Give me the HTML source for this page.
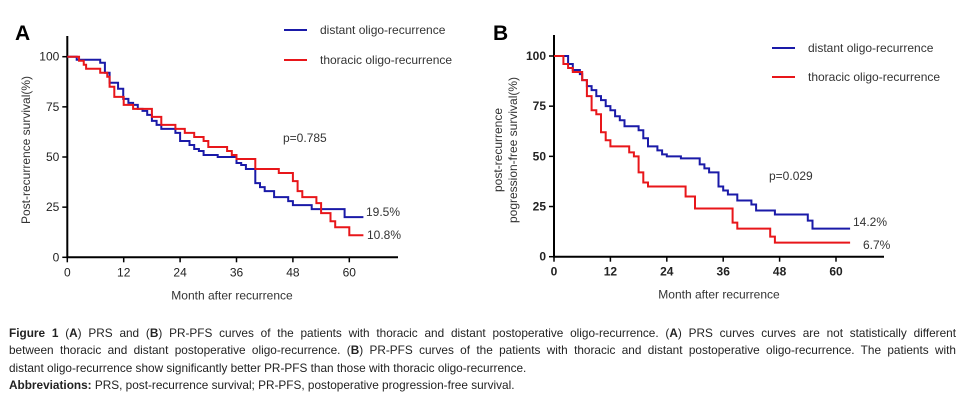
<!DOCTYPE html>
<html><head><meta charset="utf-8"><style>
body{margin:0;background:#fff;width:970px;height:405px;overflow:hidden;font-family:"Liberation Sans",sans-serif}
#cap{position:absolute;left:9px;top:325px;width:947px;font-size:11.8px;line-height:17.4px;color:#222;font-family:"Liberation Sans",sans-serif}
#cap div{white-space:nowrap;text-align:justify;text-align-last:justify}
#cap div.last{text-align-last:left}
</style></head><body>
<svg id="chart" width="970" height="320" style="position:absolute;left:0;top:0" font-family="Liberation Sans, sans-serif"></svg>
<div id="cap">
<div><b>Figure 1</b> (<b>A</b>) PRS and (<b>B</b>) PR-PFS curves of the patients with thoracic and distant postoperative oligo-recurrence. (<b>A</b>) PRS curves curves are not statistically different</div>
<div>between thoracic and distant postoperative oligo-recurrence. (<b>B</b>) PR-PFS curves of the patients with thoracic and distant postoperative oligo-recurrence. The patients with</div>
<div class="last">distant oligo-recurrence show significantly better PR-PFS than those with thoracic oligo-recurrence.</div>
<div class="last"><b>Abbreviations:</b> PRS, post-recurrence survival; PR-PFS, postoperative progression-free survival.</div>
</div>
<script>
const xTicks=[0,12,24,36,48,60];
const yTicks=[0,25,50,75,100];
const aBlueT=[0,2,7,8,9,10.8,11.9,13,14,15,16,17,18,19,20,23,24,26,27,28,29,32,36,37,38,40,41,42,44,47,48,52,59,63];
const aBlueS=[100,98.5,97,92,87,84,79,77,76,74,73,71,68,66,64,62,58,56,54,53,51,50,47,46,44,37,35,33,30,28,26,24,20,20];
const aRedT=[0,2.5,3.5,4,7,8.5,9,10,12,14,18,20,23,25,27,29,30,34,35,36,40,45,48,49,50,53,54,56,57,60,63];
const aRedS=[100,98,96,94,92,90,85,80,76,74,70,66,64,62,60,58,55,53,51,49,44,42,38,33,30,27,22,18,15,11,11];
const bBlueT=[0,3,4,5.5,6,7,8,9,10,11,12,13,14,15,18,19,20,22,23,24,27,31,32,33,35,36,37,39,42,43,47,54,55,63];
const bBlueS=[100,96,93,91,88,85,83,80,78,75,73,70,68,65,63,59,55,53,51,50,49,46,44,42,35,33,31,28,26,23,21,18,14,14];
const bRedT=[0,2,3,4,6,7,8,9,10,11,12,16,17,18,19,20,28,30,38,39,46,47,63];
const bRedS=[100,96,94,92,88,80,73,71,62,58,55,52,50,42,37,35,30,24,17,14,10,7,7];
const svg=document.getElementById('chart');
const NS='http://www.w3.org/2000/svg';
function mk(tag,attrs,parent,text){const e=document.createElementNS(NS,tag);for(const k in attrs)e.setAttribute(k,attrs[k]);if(text!==undefined)e.textContent=text;(parent||svg).appendChild(e);return e;}
function panel(cfg){
  const g=mk('g',{});
  
  
  const X=m=>cfg.x0+m*cfg.px, Y=v=>cfg.y0-v*cfg.py;
  const ax=mk('path',{d:`M${cfg.x0} ${cfg.yTop}V${cfg.y0}H${cfg.xEnd}`,stroke:'#000','stroke-width':2,fill:'none'},g);
  
  
  xTicks.forEach(t=>{
    mk('line',{x1:X(t),x2:X(t),y1:cfg.y0,y2:cfg.y0+5,stroke:'#000','stroke-width':1.5},g);
    const l=mk('text',{x:X(t),y:cfg.y0+19,'text-anchor':'middle','font-size':12,'font-weight':cfg.bold?'bold':'normal',fill:'#222'},g,t);
    
    
  });
  yTicks.forEach(t=>{
    mk('line',{x1:cfg.x0-5,x2:cfg.x0,y1:Y(t),y2:Y(t),stroke:'#000','stroke-width':1.5},g);
    const l=mk('text',{x:cfg.x0-8,y:Y(t)+4,'text-anchor':'end','font-size':12,'font-weight':cfg.bold?'bold':'normal',fill:'#222'},g,t);
    
    
  });
  [[cfg.blue,'#1a1aa8','distant-curve'],[cfg.red,'#e8161a','thoracic-curve']].forEach(([s,c,n])=>{
    let d=`M${X(s[0][0])} ${Y(s[1][0])}`;
    for(let i=1;i<s[0].length;i++){d+=`H${X(s[0][i])}V${Y(s[1][i])}`;}
    const p=mk('path',{d,stroke:c,'stroke-width':2,fill:'none'},g);
    
    
  });
  const lab=mk('text',{x:cfg.lx,y:cfg.ly,'font-size':21,'font-weight':'bold'},g,cfg.label);
  
  
  const xt=mk('text',{x:cfg.xtx,y:cfg.y0+42,'text-anchor':'middle','font-size':12,fill:'#333'},g,'Month after recurrence');
  
  
  cfg.ytitle.forEach((t,i)=>{
    const yt=mk('text',{transform:`translate(${cfg.ytx+i*15},150) rotate(-90)`,'text-anchor':'middle','font-size':12,fill:'#333'},g,t);
    
    
  });
  [['#1a1aa8','distant oligo-recurrence',cfg.legY[0]],['#e8161a','thoracic oligo-recurrence',cfg.legY[1]]].forEach(([c,t,y])=>{
    const lg=mk('g',{},g);
    
    
    mk('line',{x1:cfg.legX,x2:cfg.legX+23,y1:y,y2:y,stroke:c,'stroke-width':2},lg);
    mk('text',{x:cfg.legX+36,y:y+4,'font-size':12,fill:'#333'},lg,t);
  });
  const pv=mk('text',{x:cfg.px_x,y:cfg.px_y,'font-size':12,fill:'#333'},g,cfg.p);
  
  
  cfg.ends.forEach(([t,x,y])=>{
    const e=mk('text',{x,y,'font-size':12,fill:'#333'},g,t);
    
    
  });
}
panel({name:'panel-a',x0:67.3,y0:257.3,px:4.7,py:2.006,yTop:36,xEnd:398,blue:[aBlueT,aBlueS],red:[aRedT,aRedS],
  label:'A',lx:15,ly:40,xtx:232,ytitle:['Post-recurrence survival(%)'],ytx:30,legX:284,legY:[30,60],
  p:'p=0.785',px_x:283,px_y:142,ends:[['19.5%',366,216],['10.8%',367,239]],bold:false});
panel({name:'panel-b',x0:554,y0:256.7,px:4.7,py:2.007,yTop:35,xEnd:884,blue:[bBlueT,bBlueS],red:[bRedT,bRedS],
  label:'B',lx:493,ly:40,xtx:719,ytitle:['post-recurrence','pogression-free survival(%)'],ytx:502,legX:772,legY:[48,77],
  p:'p=0.029',px_x:769,px_y:180,ends:[['14.2%',853,226],['6.7%',863,249]],bold:true});
</script>
</body></html>
